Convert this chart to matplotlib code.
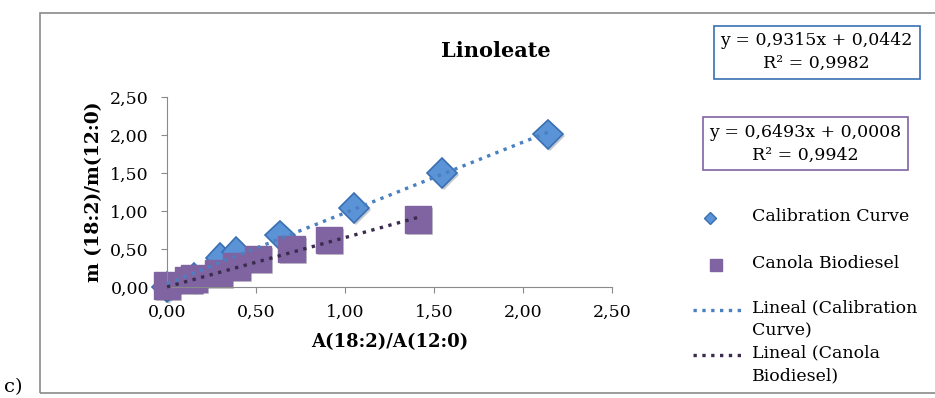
import matplotlib
matplotlib.use("Agg")
import matplotlib.pyplot as plt
import matplotlib.patheffects as pe
from matplotlib.lines import Line2D
from matplotlib.patches import Rectangle
import numpy as np

plt.rcParams['font.family'] = ['DejaVu Serif']

# data
calib_x = [0.00, 0.15, 0.30, 0.39, 0.635, 1.05, 1.545, 2.14]
calib_y = [0.00, 0.12, 0.38, 0.46, 0.68, 1.04, 1.50, 2.01]
canola_x = [0.00, 0.12, 0.15, 0.29, 0.39, 0.51, 0.70, 0.91, 1.41]
canola_y = [0.02, 0.09, 0.11, 0.18, 0.27, 0.37, 0.50, 0.62, 0.89]

calib_fit = (0.9315, 0.0442)
canola_fit = (0.6493, 0.0008)
calib_eq = 'y = 0,9315x + 0,0442\nR² = 0,9982'
canola_eq = 'y = 0,6493x + 0,0008\nR² = 0,9942'

ticks = [0.0, 0.5, 1.0, 1.5, 2.0, 2.5]
tick_labels = ['0,00', '0,50', '1,00', '1,50', '2,00', '2,50']

legend_labels = ['Calibration Curve', 'Canola Biodiesel',
                 'Lineal (Calibration\nCurve)', 'Lineal (Canola\nBiodiesel)']

blue = '#5a93d6'
blue_edge = '#3a6fb3'
blue_line = '#4a7fc0'
purple = '#8064a2'
dark_line = '#3b2b4e'
grey = '#8a8a8a'

fig = plt.figure(figsize=(9.35, 3.98), dpi=100)
ax = fig.add_axes([0.1786, 0.279, 0.476, 0.477])

# outer chart border
fig.patches.append(Rectangle((0.043, 0.013), 0.96, 0.955, transform=fig.transFigure,
                             fill=False, edgecolor=grey, lw=1.2))

shadow = [pe.SimplePatchShadow(offset=(1.5, -1.5), alpha=0.25), pe.Normal()]

# points
ax.plot(calib_x, calib_y, 'D', ms=15, mfc=blue, mec=blue_edge, mew=1.2, zorder=2,
        path_effects=shadow)
ax.plot(canola_x, canola_y, 's', ms=19, mfc=purple, mec=purple, zorder=2.5,
        path_effects=shadow)

# trend lines (on top of the markers)
xs = np.array([min(calib_x), max(calib_x)])
ax.plot(xs, calib_fit[0] * xs + calib_fit[1], ':', color=blue_line, lw=2.4, zorder=4)
xs = np.array([min(canola_x), max(canola_x)])
ax.plot(xs, canola_fit[0] * xs + canola_fit[1], ':', color=dark_line, lw=2.4, zorder=4)

ax.set_xlim(0, 2.5)
ax.set_ylim(0, 2.5)
ax.set_xticks(ticks)
ax.set_xticklabels(tick_labels)
ax.set_yticks(ticks)
ax.set_yticklabels(tick_labels)
ax.tick_params(labelsize=12.5, color=grey, length=4)
ax.tick_params(axis='y', pad=9)
ax.tick_params(axis='x', pad=8)
for s in ['top', 'right']:
    ax.spines[s].set_visible(False)
for s in ['left', 'bottom']:
    ax.spines[s].set_color(grey)
ax.set_xlabel('A(18:2)/A(12:0)', fontsize=13, fontweight='bold', labelpad=9)
ax.set_ylabel('m (18:2)/m(12:0)', fontsize=13.5, fontweight='bold', labelpad=5)
for line in ax.lines:
    line.set_clip_on(False)

fig.text(0.530, 0.872, 'Linoleate', ha='center', va='center', fontsize=15, fontweight='bold')

# equation boxes
fig.text(0.8735, 0.869, calib_eq, ha='center', va='center', fontsize=12.5, linespacing=1.45,
         bbox=dict(boxstyle='square,pad=0.38', fc='white', ec=blue_edge, lw=1.2))
fig.text(0.8615, 0.639, canola_eq, ha='center', va='center', fontsize=12.5, linespacing=1.45,
         bbox=dict(boxstyle='square,pad=0.38', fc='white', ec=purple, lw=1.2))

# legend, placed by hand in figure coordinates
handles = [
    Line2D([0.759], [0.452], ls='none', marker='D', ms=6, mfc=blue, mec=blue_edge),
    Line2D([0.766], [0.334], ls='none', marker='s', ms=8, mfc=purple, mec=purple),
    Line2D([0.741, 0.792], [0.221, 0.221], ls=':', color=blue_line, lw=2.4),
    Line2D([0.741, 0.792], [0.108, 0.108], ls=':', color=dark_line, lw=2.4),
]
label_y = [0.452, 0.334, 0.221, 0.108]
for h, lab, yy in zip(handles, legend_labels, label_y):
    h.set_transform(fig.transFigure)
    fig.add_artist(h)
    fig.text(0.804, yy + 0.026, lab, ha='left', va='top', fontsize=12.5, linespacing=1.45)

fig.text(0.004, 0.004, 'c)', fontsize=14, ha='left', va='bottom')

fig.savefig('out.png', dpi=100)
